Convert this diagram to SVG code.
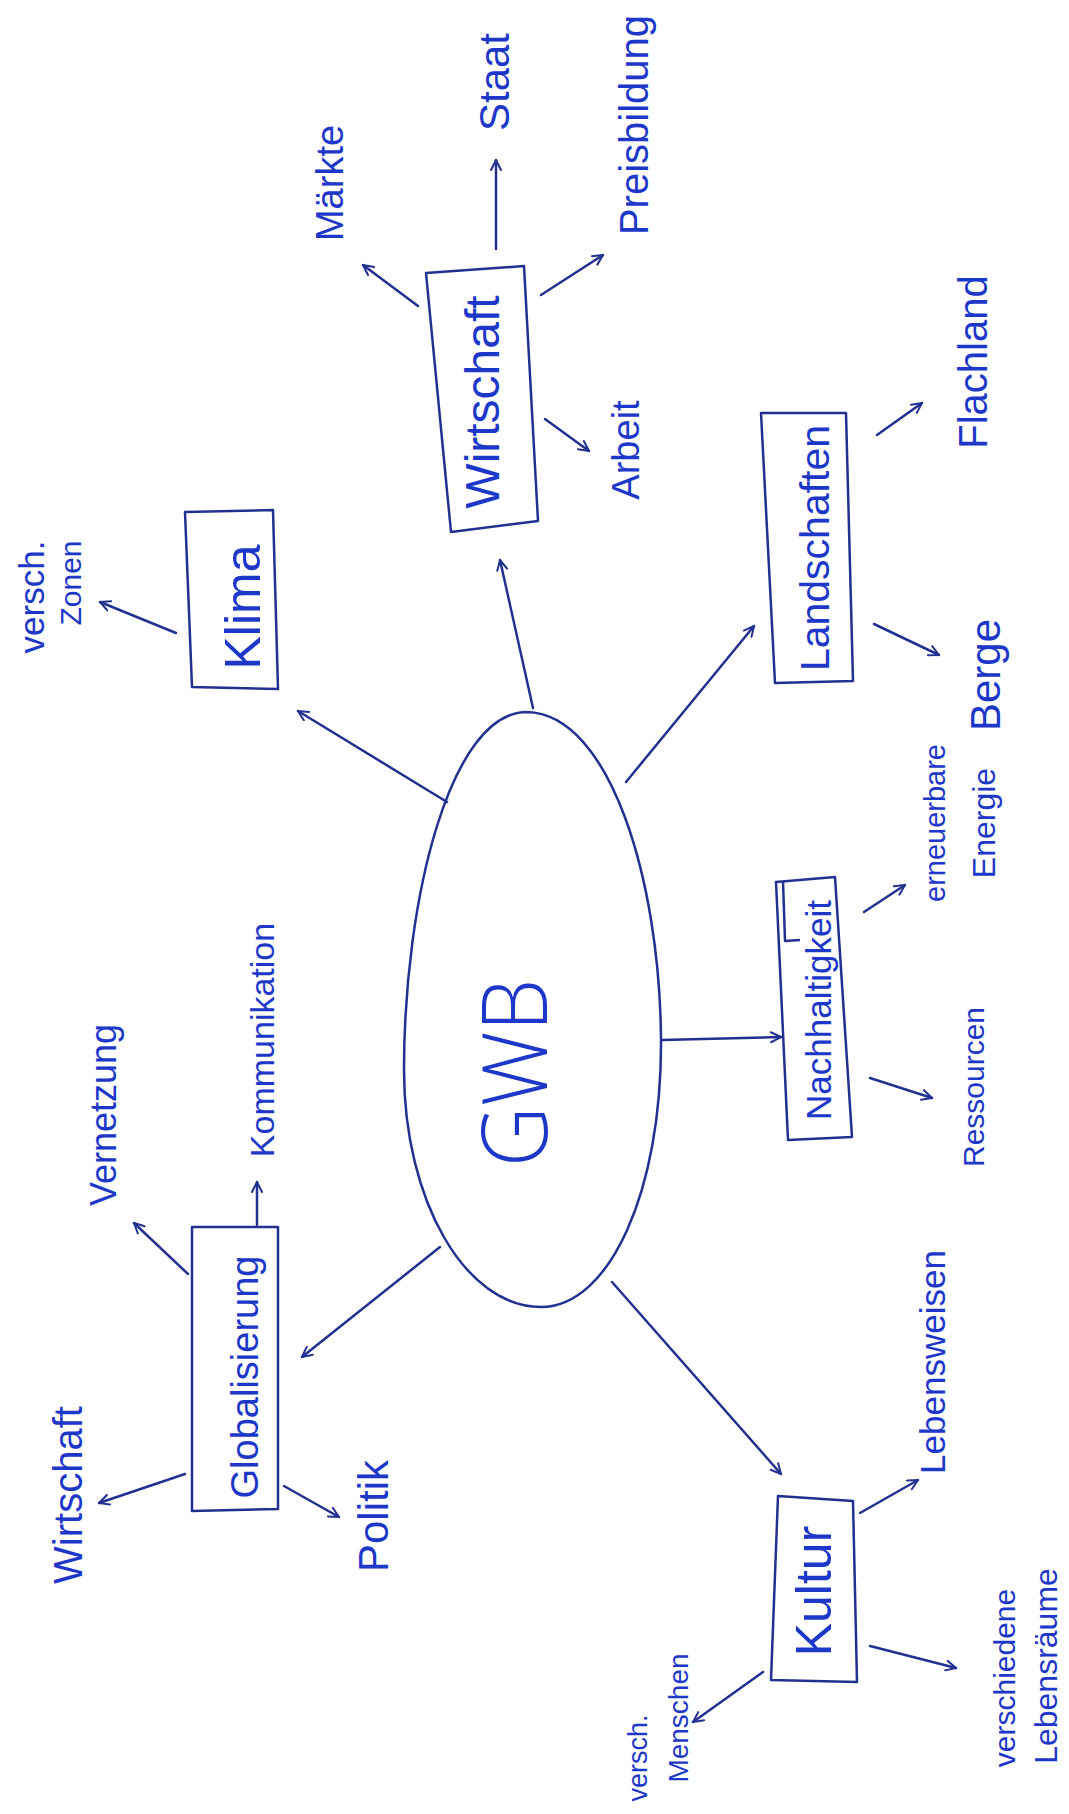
<svg xmlns="http://www.w3.org/2000/svg" width="1069" height="1814" viewBox="0 0 1069 1814">
<style>
.bg{fill:#ffffff}
.box{fill:none;stroke:#22318f;stroke-width:2.5;stroke-linejoin:round}
.ell{fill:none;stroke:#22318f;stroke-width:2.5}
.c{fill:none;stroke:#22318f;stroke-width:2.5;stroke-linecap:round}
.t{font-family:"Liberation Sans",Arial,sans-serif;fill:#1d38c8;text-anchor:middle;dominant-baseline:central}
.big{font-family:"Open Sans","Liberation Sans",Arial,sans-serif;font-weight:300;fill:#1d38c8;text-anchor:middle;dominant-baseline:central}
</style>
<defs>
<marker id="ah" viewBox="0 0 12 12" refX="11" refY="6" markerWidth="12" markerHeight="12" markerUnits="userSpaceOnUse" orient="auto">
<path d="M1,1 L11,6 L1,11" fill="none" stroke="#22318f" stroke-width="2" stroke-linecap="round" stroke-linejoin="round"/>
</marker>
</defs>
<rect class="bg" x="0" y="0" width="1069" height="1814"/>

<g id="connectors">
<line class="c" x1="533" y1="708" x2="500" y2="560" marker-end="url(#ah)"/>
<line class="c" x1="496" y1="249" x2="496" y2="160" marker-end="url(#ah)"/>
<line class="c" x1="418" y1="306" x2="363" y2="265" marker-end="url(#ah)"/>
<line class="c" x1="541" y1="295" x2="603" y2="255" marker-end="url(#ah)"/>
<line class="c" x1="545" y1="419" x2="589" y2="451" marker-end="url(#ah)"/>
<line class="c" x1="447" y1="802" x2="298" y2="711" marker-end="url(#ah)"/>
<line class="c" x1="176" y1="633" x2="100" y2="602" marker-end="url(#ah)"/>
<line class="c" x1="626" y1="782" x2="754" y2="626" marker-end="url(#ah)"/>
<line class="c" x1="877" y1="435" x2="922" y2="403" marker-end="url(#ah)"/>
<line class="c" x1="874" y1="624" x2="939" y2="655" marker-end="url(#ah)"/>
<line class="c" x1="662" y1="1040" x2="781" y2="1037" marker-end="url(#ah)"/>
<line class="c" x1="864" y1="912" x2="905" y2="885" marker-end="url(#ah)"/>
<line class="c" x1="870" y1="1078" x2="932" y2="1098" marker-end="url(#ah)"/>
<line class="c" x1="440" y1="1247" x2="302" y2="1357" marker-end="url(#ah)"/>
<line class="c" x1="257" y1="1225" x2="257" y2="1182" marker-end="url(#ah)"/>
<line class="c" x1="188" y1="1274" x2="134" y2="1223" marker-end="url(#ah)"/>
<line class="c" x1="185" y1="1474" x2="99" y2="1503" marker-end="url(#ah)"/>
<line class="c" x1="284" y1="1486" x2="339" y2="1517" marker-end="url(#ah)"/>
<line class="c" x1="612" y1="1282" x2="781" y2="1474" marker-end="url(#ah)"/>
<line class="c" x1="860" y1="1513" x2="918" y2="1480" marker-end="url(#ah)"/>
<line class="c" x1="870" y1="1646" x2="956" y2="1668" marker-end="url(#ah)"/>
<line class="c" x1="763" y1="1672" x2="693" y2="1722" marker-end="url(#ah)"/>
</g>

<g id="gwb">
<path class="ell" d="M527,712 C610,714 660,880 661,1040 C662,1190 610,1307 541,1307 C465,1307 404,1200 404,1070 C404,900 450,712 527,712 Z"/>
<text class="big" transform="translate(512,1073) rotate(-90)" style="font-size:90px" textLength="188" lengthAdjust="spacingAndGlyphs">GWB</text>
</g>

<g id="wirtschaft">
<polygon class="box" points="426,273 524,266 538,521 451,532"/>
<text class="t" transform="translate(482,402) rotate(-90)" style="font-size:48px">Wirtschaft</text>
</g>
<g id="staat"><text class="t" transform="translate(494,82) rotate(-90)" style="font-size:42px">Staat</text></g>
<g id="maerkte"><text class="t" transform="translate(330,183) rotate(-90)" style="font-size:38px">Märkte</text></g>
<g id="preisbildung"><text class="t" transform="translate(634,125) rotate(-90)" style="font-size:40px">Preisbildung</text></g>
<g id="arbeit"><text class="t" transform="translate(626,450) rotate(-90)" style="font-size:38px">Arbeit</text></g>

<g id="klima">
<polygon class="box" points="185,512 273,510 278,689 192,687"/>
<text class="t" transform="translate(243,607) rotate(-90)" style="font-size:50px">Klima</text>
</g>
<g id="zonen">
<text class="t" transform="translate(31,597) rotate(-90)" style="font-size:35px">versch.</text>
<text class="t" transform="translate(70,583) rotate(-90)" style="font-size:30px">Zonen</text>
</g>

<g id="landschaften">
<polygon class="box" points="761,413 846,413 853,681 775,683"/>
<text class="t" transform="translate(815,548) rotate(-90)" style="font-size:41px">Landschaften</text>
</g>
<g id="flachland"><text class="t" transform="translate(973,362) rotate(-90)" style="font-size:40px">Flachland</text></g>
<g id="berge"><text class="t" transform="translate(985,675) rotate(-90)" style="font-size:42px">Berge</text></g>

<g id="nachhaltigkeit">
<polygon class="box" points="776,882 835,877 852,1137 788,1140"/>
<polyline class="box" points="783,881 785,941 800,940"/>
<text class="t" transform="translate(818,1010) rotate(-90)" style="font-size:35px">Nachhaltigkeit</text>
</g>
<g id="energie">
<text class="t" transform="translate(935,823) rotate(-90)" style="font-size:29px">erneuerbare</text>
<text class="t" transform="translate(984,823) rotate(-90)" style="font-size:32px">Energie</text>
</g>
<g id="ressourcen"><text class="t" transform="translate(973,1087) rotate(-90)" style="font-size:30px">Ressourcen</text></g>

<g id="globalisierung">
<polygon class="box" points="192,1227 278,1227 278,1509 192,1511"/>
<text class="t" transform="translate(245,1377) rotate(-90)" style="font-size:38px">Globalisierung</text>
</g>
<g id="kommunikation"><text class="t" transform="translate(262,1040) rotate(-90)" style="font-size:34px">Kommunikation</text></g>
<g id="vernetzung"><text class="t" transform="translate(103,1115) rotate(-90)" style="font-size:36px">Vernetzung</text></g>
<g id="wirtschaft2"><text class="t" transform="translate(68,1495) rotate(-90)" style="font-size:40px">Wirtschaft</text></g>
<g id="politik"><text class="t" transform="translate(373,1516) rotate(-90)" style="font-size:42px">Politik</text></g>

<g id="kultur">
<polygon class="box" points="778,1496 853,1501 857,1682 771,1680"/>
<text class="t" transform="translate(814,1591) rotate(-90)" style="font-size:50px">Kultur</text>
</g>
<g id="lebensweisen"><text class="t" transform="translate(932,1362) rotate(-90)" style="font-size:35px">Lebensweisen</text></g>
<g id="lebensraeume">
<text class="t" transform="translate(1004,1678) rotate(-90)" style="font-size:30px">verschiedene</text>
<text class="t" transform="translate(1046,1666) rotate(-90)" style="font-size:32px">Lebensräume</text>
</g>
<g id="menschen">
<text class="t" transform="translate(638,1758) rotate(-90)" style="font-size:27px">versch.</text>
<text class="t" transform="translate(678,1718) rotate(-90)" style="font-size:28px">Menschen</text>
</g>
</svg>
